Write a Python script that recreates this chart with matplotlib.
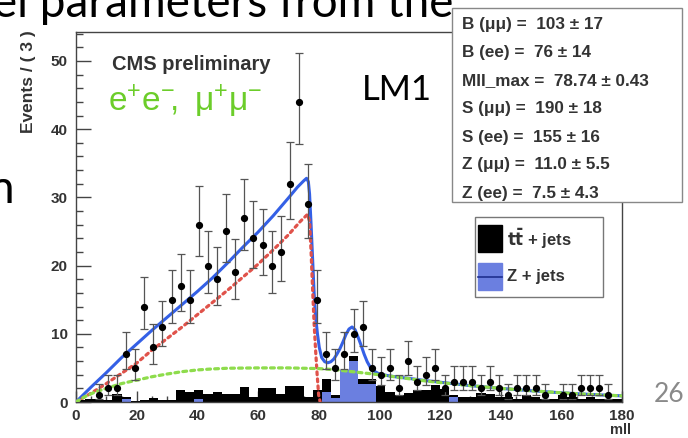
import numpy as np
import matplotlib
matplotlib.use("Agg")
import matplotlib.pyplot as plt
from matplotlib.patches import Rectangle
from matplotlib.lines import Line2D
from matplotlib.ticker import MultipleLocator

# ---------------- data ----------------
BIN_WIDTH = 3
data_counts = [0, 0, 1, 2, 2, 7, 5, 14, 8, 11,
               15, 17, 15, 26, 20, 18, 25, 19, 27, 24,
               23, 20, 22, 32, 44, 29, 15, 7, 5, 7,
               10, 11, 5, 4, 5, 2, 6, 3, 4, 5,
               2, 3, 3, 3, 2, 3, 2, 1, 2, 2,
               2, 1, 0, 1, 1, 2, 2, 2, 1, 0]

ttbar_mc = [0.3, 0.5, 0.4, 0.3, 1.2, 0.2, 0.2, 0.3, 0.6, 0.3,
            0.3, 1.7, 1.4, 1.3, 1.1, 1.4, 1.1, 1.1, 2.2, 0.7,
            2.1, 2.1, 1.2, 2.3, 2.4, 0.8, 1.7, 1.8, 0.4, 0.0,
            0.7, 0.6, 0.7, 2.3, 1.5, 1.0, 1.3, 1.7, 1.7, 2.5,
            1.9, 0.2, 0.8, 0.8, 1.3, 1.2, 0.8, 0.8, 0.5, 1.0,
            0.8, 0.5, 0.4, 1.0, 0.8, 0.5, 0.8, 0.5, 0.5, 0.5]

zjets_mc = [0, 0, 0, 0, 0, 0.5, 0, 0, 0, 0,
            0, 0, 0, 0.5, 0, 0, 0, 0, 0, 0,
            0, 0, 0, 0, 0, 0, 0, 1.5, 0.6, 4.7,
            6.0, 2.7, 2.7, 0, 0, 0, 0, 0, 0, 0,
            0, 0.8, 0, 0, 0, 0, 0, 0, 0, 0,
            0, 0, 0, 0, 0, 0, 0, 0, 0, 0]

total_fit_x = [0, 5, 10, 15, 20, 25, 30, 35, 40, 45, 50, 55, 60, 65, 70, 73, 75, 76,
               76.6, 77, 77.5, 78, 78.5, 79, 79.6, 80.2, 81, 82, 83, 84, 85, 86, 87,
               88, 89, 90, 91, 92, 93, 94, 95, 96, 97, 98, 100, 103, 106, 110, 115,
               120, 130, 140, 150, 160, 170, 180]
total_fit_y = [0, 2.2, 4.3, 6.5, 8.5, 10.5, 12.4, 14.3, 16.2, 18.2, 20.4, 22.7, 24.9,
               27.3, 29.9, 31.5, 32.4, 32.8, 32.3, 30.5, 26.0, 21.0, 16.0, 12.5, 10.0,
               8.0, 6.5, 5.9, 5.75, 5.9, 6.3, 7.0, 7.8, 8.8, 9.9, 10.7, 11.0, 10.6, 9.5,
               8.3, 7.0, 5.9, 5.1, 4.6, 4.1, 3.85, 3.65, 3.45, 3.15, 2.9, 2.4, 2.0,
               1.65, 1.35, 1.1, 0.9]

signal_x = [0, 5, 10, 15, 20, 25, 30, 35, 40, 45, 50, 55, 60, 65, 70, 74, 76.3, 77,
            77.5, 78, 78.5, 79, 79.5, 80, 80.5]
signal_y = [0, 1.3, 2.7, 4.2, 5.7, 7.6, 9.3, 11.0, 12.8, 14.6, 16.4, 18.3, 20.2, 22.3,
            24.5, 26.5, 27.5, 26.5, 22.0, 16.5, 11.5, 7.5, 4.0, 1.0, 0.0]

bkg_x = [0, 3, 6, 10, 15, 20, 25, 30, 35, 40, 45, 50, 60, 70, 80, 85, 90, 95, 100,
         105, 110, 115, 120, 130, 140, 150, 160, 170, 180]
bkg_y = [0, 0.8, 1.4, 2.0, 2.7, 3.2, 3.7, 4.1, 4.45, 4.7, 4.85, 4.95, 5.0, 5.0, 4.9,
         4.75, 4.5, 4.25, 4.0, 3.7, 3.4, 3.1, 2.85, 2.4, 2.0, 1.65, 1.35, 1.1, 0.9]

x_ticks = [0, 20, 40, 60, 80, 100, 120, 140, 160, 180]
y_ticks = [0, 10, 20, 30, 40, 50]

stats_lines = ["B (\u03bc\u03bc) =  103 \u00b1 17",
               "B (ee) =  76 \u00b1 14",
               "MII_max =  78.74 \u00b1 0.43",
               "S (\u03bc\u03bc) =  190 \u00b1 18",
               "S (ee) =  155 \u00b1 16",
               "Z (\u03bc\u03bc) =  11.0 \u00b1 5.5",
               "Z (ee) =  7.5 \u00b1 4.3"]

# ---------------- figure ----------------
W, H = 688, 438
fig = plt.figure(figsize=(W / 100, H / 100), dpi=100)
fig.patch.set_facecolor("white")

def fx(px):
    return px / W

def fy(py):
    return 1 - py / H

ROOTF = ["Liberation Sans", "DejaVu Sans"]
SLIDEF = ["Lato", "DejaVu Sans"]
TXT = "#333333"

ax = fig.add_axes([fx(76), fy(402), (622 - 76) / W, (402 - 32) / H])
ax.set_xlim(0, 180)
ax.set_ylim(0, 54.25)

edges = np.arange(0, 180 + BIN_WIDTH, BIN_WIDTH)
centers = edges[:-1] + BIN_WIDTH / 2
counts = np.array(data_counts, dtype=float)
tt = np.array(ttbar_mc)
zj = np.array(zjets_mc)

# stacked MC histograms (Z+jets at bottom, ttbar on top)
ax.stairs(zj, edges, fill=True, color="#6b7fe0", zorder=2)
ax.stairs(zj + tt, edges, baseline=zj, fill=True, color="black", zorder=2)

# fit curves
ax.plot(total_fit_x, total_fit_y, color="#3460e6", lw=2.2, zorder=3,
        solid_joinstyle="round")
ax.plot(signal_x, signal_y, color="#e0524a", lw=2.3, ls=(0, (0.9, 1.3)),
        dash_capstyle="round", zorder=4)
ax.plot(bkg_x, bkg_y, color="#8edc4c", lw=2.3, ls=(0, (1.2, 1.3)),
        dash_capstyle="round", zorder=4)

# data points with Poisson-like error bars
m = counts > 0
lo = np.sqrt(counts[m] + 0.25) - 0.5
hi = np.sqrt(counts[m] + 0.25) + 0.5
ax.errorbar(centers[m], counts[m], yerr=[lo, hi], fmt="o", ms=4.2, color="black",
            ecolor="#555555", elinewidth=0.9, capsize=2.6, capthick=0.9, zorder=5)

# axes styling
for s in ax.spines.values():
    s.set_color("#444444")
    s.set_linewidth(1.0)
ax.set_xticks(x_ticks)
ax.set_yticks(y_ticks)
ax.xaxis.set_minor_locator(MultipleLocator(5))
ax.yaxis.set_minor_locator(MultipleLocator(2))
ax.tick_params(axis="both", which="both", direction="in", colors="#444444",
               top=False, right=False)
ax.tick_params(axis="y", which="major", length=10.5, width=1, pad=6)
ax.tick_params(axis="y", which="minor", length=5, width=1)
ax.tick_params(axis="x", which="major", length=8, width=1, pad=5)
ax.tick_params(axis="x", which="minor", length=4, width=1)
for lab in ax.get_xticklabels() + ax.get_yticklabels():
    lab.set_family(ROOTF)
    lab.set_fontweight("bold")
    lab.set_fontsize(11)
    lab.set_color(TXT)

# axis titles (ROOT style)
fig.text(fx(29), fy(30), "Events / ( 3 )", rotation=90, ha="center", va="top",
         family=ROOTF, fontweight="bold", fontsize=12.5, color=TXT)
fig.text(fx(631), fy(423), "mll", ha="right", va="top", family=ROOTF,
         fontweight="bold", fontsize=10.5, color=TXT)

# in-plot labels
fig.text(fx(112), fy(70), "CMS preliminary", ha="left", va="baseline",
         family=ROOTF, fontweight="bold", fontsize=14.5, color=TXT, zorder=6)
fig.text(fx(108), fy(111), r"$\mathregular{e^{+}e^{-}\!,\;\mu^{+}\mu^{-}}$", ha="left",
         va="baseline", family=["Liberation Sans", "DejaVu Sans"], fontsize=24,
         color="#6ccd2a", zorder=6)
fig.text(fx(362), fy(100), "LM1", ha="left", va="baseline", family=SLIDEF,
         fontsize=25, color="black", zorder=6)

# slide text
fig.text(fx(-7), fy(17), "el parameters from the", ha="left", va="baseline",
         family=SLIDEF, fontsize=33, color="black", zorder=1)
fig.text(fx(14), fy(203), "n", ha="right", va="baseline", family=SLIDEF,
         fontsize=33, color="black", zorder=1)
fig.text(fx(684), fy(402), "26", ha="right", va="baseline", family=SLIDEF,
         fontsize=19, color="#8a8a8a", zorder=1)

# stats box
fig.add_artist(Rectangle((fx(452), fy(202)), (682 - 452) / W, (202 - 8) / H,
                         transform=fig.transFigure, facecolor="white",
                         edgecolor="#888888", lw=1.0, zorder=8))
for i, line in enumerate(stats_lines):
    fig.text(fx(462), fy(25 + 28 * i), line, ha="left", va="center",
             family=ROOTF, fontweight="bold", fontsize=12.3, color=TXT, zorder=9)

# legend box
fig.add_artist(Rectangle((fx(475), fy(297)), (603 - 475) / W, (297 - 217) / H,
                         transform=fig.transFigure, facecolor="white",
                         edgecolor="#777777", lw=1.0, zorder=8))
fig.add_artist(Rectangle((fx(478), fy(252)), 24 / W, 27 / H,
                         transform=fig.transFigure, facecolor="black",
                         edgecolor="black", zorder=9))
fig.add_artist(Rectangle((fx(478), fy(290)), 24 / W, 27 / H,
                         transform=fig.transFigure, facecolor="#6b7fe0",
                         edgecolor="#6b7fe0", zorder=9))
fig.add_artist(Line2D([fx(478), fx(502)], [fy(276.5), fy(276.5)],
                      transform=fig.transFigure, color="#1f2f8f", lw=1.2, zorder=10))
fig.text(fx(507), fy(239), r"$\mathbf{t\bar{t}}$ + jets", ha="left", va="center",
         family=ROOTF, fontweight="bold", fontsize=12, color=TXT, zorder=9)
fig.text(fx(507), fy(277), "Z + jets", ha="left", va="center",
         family=ROOTF, fontweight="bold", fontsize=12, color=TXT, zorder=9)

fig.savefig("out.png", dpi=100, facecolor="white")
